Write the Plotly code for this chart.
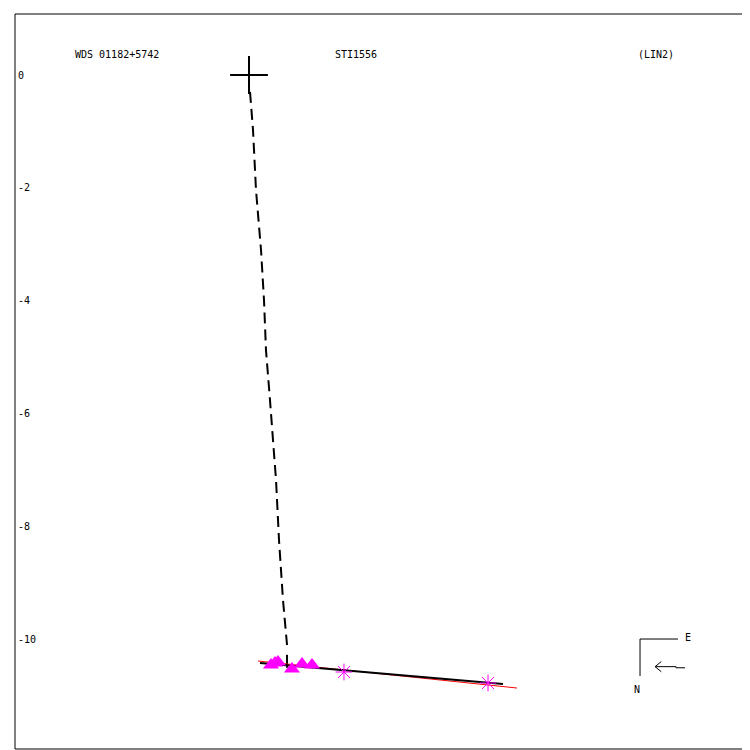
import plotly.graph_objects as go

# ---- data (units: arcsec-like, same scale on both axes) ----
title_left = "WDS 01182+5742"
title_mid = "STI1556"
title_right = "(LIN2)"

ytick_vals = [0, -2, -4, -6, -8, -10]
ytick_text = ["0", "-2", "-4", "-6", "-8", "-10"]

primary_x = [0.0]
primary_y = [0.0]

# dashed connector (predicted path from primary)
path_x = [0.018, 0.071, 0.124, 0.213, 0.266, 0.301, 0.372, 0.426, 0.479, 0.532, 0.603, 0.674]
path_y = [-0.30, -0.975, -2.039, -3.103, -3.989, -4.876, -5.762, -6.472, -7.181, -8.245, -9.309, -10.106]

tick_x = [0.674, 0.674]
tick_y = [-10.28, -10.51]

fit_black_x = [0.195, 4.504]
fit_black_y = [-10.426, -10.798]

fit_red_x = [0.160, 4.752]
fit_red_y = [-10.390, -10.869]

tri_x = [0.39, 0.461, 0.514, 0.762, 0.940, 1.117]
tri_y = [-10.46, -10.426, -10.408, -10.532, -10.443, -10.461]

star_x = [1.684, 4.238]
star_y = [-10.585, -10.780]

# compass
comp_x = [7.606, 6.933, 6.933]
comp_y = [-10.0, -10.0, -10.656]
arrow_x = [7.73, 7.57, 7.57, 7.20]
arrow_y = [-10.51, -10.51, -10.49, -10.49]
head_x = [7.31, 7.20, 7.31]
head_y = [-10.40, -10.49, -10.58]

fig = go.Figure()

fig.add_trace(go.Scatter(x=path_x, y=path_y, mode="lines",
                         line=dict(color="black", width=2, dash="11px,6px")))
fig.add_trace(go.Scatter(x=tick_x, y=tick_y, mode="lines",
                         line=dict(color="black", width=2)))
fig.add_trace(go.Scatter(x=fit_red_x, y=fit_red_y, mode="lines",
                         line=dict(color="red", width=1)))
fig.add_trace(go.Scatter(x=fit_black_x, y=fit_black_y, mode="lines",
                         line=dict(color="black", width=2)))
fig.add_trace(go.Scatter(x=tri_x, y=tri_y, mode="markers",
                         marker=dict(symbol="triangle-up", size=14, color="#ff00ff",
                                     line=dict(width=0))))
fig.add_trace(go.Scatter(x=star_x, y=star_y, mode="markers",
                         marker=dict(symbol="asterisk-open", size=14, color="#ff00ff",
                                     line=dict(color="#ff00ff", width=1))))
fig.add_trace(go.Scatter(x=primary_x, y=primary_y, mode="markers",
                         marker=dict(symbol="cross-thin-open", size=27, color="black",
                                     line=dict(color="black", width=2))))
fig.add_trace(go.Scatter(x=comp_x, y=comp_y, mode="lines",
                         line=dict(color="black", width=1)))
fig.add_trace(go.Scatter(x=arrow_x, y=arrow_y, mode="lines",
                         line=dict(color="black", width=1)))
fig.add_trace(go.Scatter(x=head_x, y=head_y, mode="lines",
                         line=dict(color="black", width=1)))

font = dict(family="DejaVu Sans Mono", size=10, color="black")
ann = [
    dict(x=-2.349, y=0.355, text=title_left, xref="x", yref="y", showarrow=False, font=font),
    dict(x=1.897, y=0.355, text=title_mid, xref="x", yref="y", showarrow=False, font=font),
    dict(x=7.216, y=0.355, text=title_right, xref="x", yref="y", showarrow=False, font=font),
    dict(x=7.78, y=-9.98, text="E", xref="x", yref="y", showarrow=False, font=font),
    dict(x=6.88, y=-10.90, text="N", xref="x", yref="y", showarrow=False, font=font),
]
for v, t in zip(ytick_vals, ytick_text):
    ann.append(dict(x=0.002, y=v, text=t, xref="paper", yref="y", xanchor="left",
                    showarrow=False, font=font))

fig.update_layout(
    width=742, height=742,
    margin=dict(l=7, r=0, t=6, b=1),
    paper_bgcolor="white", plot_bgcolor="white",
    showlegend=False,
    xaxis=dict(range=[-4.149, 8.883], visible=False, fixedrange=True),
    yaxis=dict(range=[-11.950, 1.0816], visible=False, fixedrange=True),
    annotations=ann,
    shapes=[dict(type="rect", xref="paper", yref="paper", x0=0, y0=0, x1=1, y1=1,
                 line=dict(color="black", width=1))],
)

fig.write_html("out.html")
